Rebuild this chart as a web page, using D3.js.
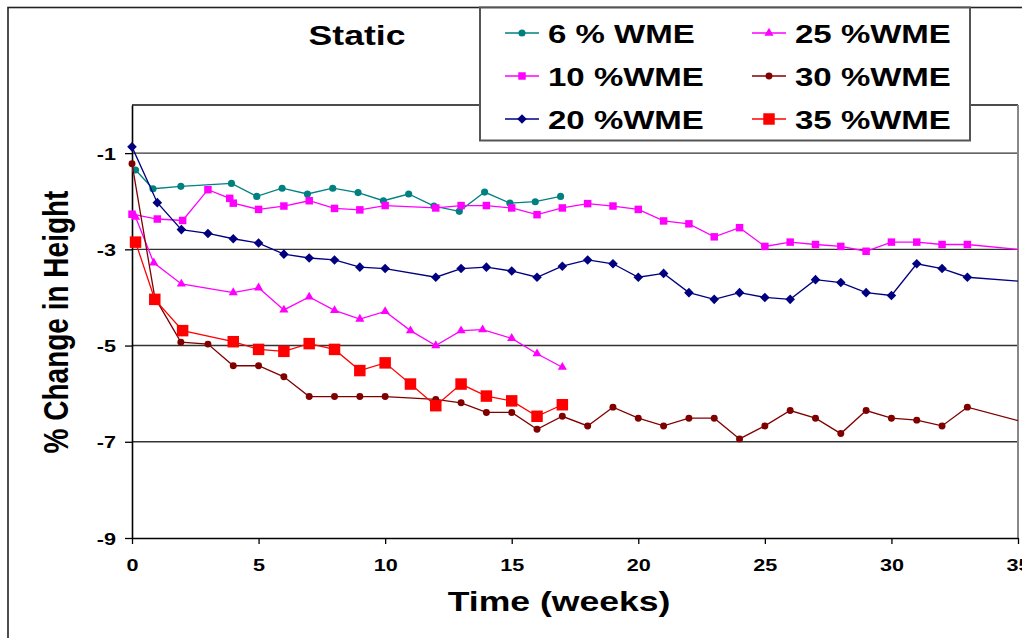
<!DOCTYPE html>
<html>
<head>
<meta charset="utf-8">
<script src="https://cdn.jsdelivr.net/npm/d3@7/dist/d3.min.js"></script>
<style>
  html, body { margin: 0; padding: 0; background: #fff; }
  svg { display: block; }
  text { font-family: "Liberation Sans", Arial, sans-serif; font-weight: bold; fill: #000; }
</style>
</head>
<body>
<svg id="chart" width="1022" height="638"></svg>
<script>
// ---- data: % change in height over time (weeks), per WME level ----
const seriesNames = ["6 % WME", "10 %WME", "20 %WME", "25 %WME", "30 %WME", "35 %WME"];

const wme6Weeks  = [0.14, 0.83, 1.93, 3.93, 4.93, 5.93, 6.93, 7.93, 8.93, 9.93, 10.93, 11.93, 12.93, 13.93, 14.93, 15.93, 16.93];
const wme6Values = [-1.35, -1.74, -1.69, -1.63, -1.90, -1.73, -1.85, -1.73, -1.82, -1.99, -1.85, -2.10, -2.21, -1.81, -2.04, -2.01, -1.90];

const wme10Weeks  = [0, 1, 2, 3, 3.86, 4, 5, 6, 7, 8, 9, 10, 12, 13, 14, 15, 16, 17, 18, 19, 20, 21, 22, 23, 24, 25, 26, 27, 28, 29, 30, 31, 32, 33, 36];
const wme10Values = [-2.27, -2.37, -2.40, -1.76, -1.94, -2.04, -2.17, -2.10, -1.99, -2.15, -2.18, -2.09, -2.14, -2.09, -2.09, -2.14, -2.28, -2.14, -2.05, -2.10, -2.17, -2.41, -2.47, -2.74, -2.55, -2.94, -2.85, -2.90, -2.94, -3.04, -2.85, -2.85, -2.90, -2.90, -3.05];

const wme20Weeks  = [0, 1, 1.95, 3, 4, 5, 6, 7, 8, 9, 10, 12, 13, 14, 15, 16, 17, 18, 19, 20, 21, 22, 23, 24, 25, 26, 27, 28, 29, 30, 31, 32, 33, 36];
const wme20Values = [-0.87, -2.03, -2.59, -2.67, -2.78, -2.87, -3.10, -3.18, -3.22, -3.37, -3.40, -3.58, -3.40, -3.37, -3.45, -3.58, -3.35, -3.22, -3.30, -3.58, -3.50, -3.90, -4.04, -3.90, -4.00, -4.04, -3.63, -3.69, -3.90, -3.96, -3.30, -3.40, -3.58, -3.70];

const wme25Weeks  = [0.14, 0.86, 1.95, 4, 5, 6, 7, 8, 9, 10, 11, 12, 13, 13.85, 15, 16, 17];
const wme25Values = [-2.33, -3.28, -3.72, -3.90, -3.80, -4.26, -3.99, -4.27, -4.45, -4.29, -4.69, -5.00, -4.69, -4.67, -4.85, -5.17, -5.45];

const wme30Weeks  = [0, 0.9, 1.93, 3, 4, 5, 6, 7, 8, 9, 10, 12, 13, 14, 15, 16, 17, 18, 19, 20, 21, 22, 23, 24, 25, 26, 27, 28, 29, 30, 31, 32, 33, 36];
const wme30Values = [-1.22, -4.00, -4.93, -4.97, -5.42, -5.42, -5.65, -6.06, -6.06, -6.06, -6.06, -6.12, -6.19, -6.39, -6.39, -6.74, -6.47, -6.67, -6.28, -6.51, -6.67, -6.51, -6.51, -6.94, -6.67, -6.35, -6.51, -6.83, -6.35, -6.51, -6.55, -6.67, -6.28, -6.70];

const wme35Weeks  = [0.14, 0.9, 2, 4, 5, 6, 7, 8, 9, 10, 11, 12, 13, 14, 15, 16, 17];
const wme35Values = [-2.85, -4.04, -4.69, -4.92, -5.08, -5.12, -4.96, -5.08, -5.52, -5.36, -5.80, -6.25, -5.80, -6.05, -6.15, -6.47, -6.23];

const xTickValues = [0, 5, 10, 15, 20, 25, 30, 35];
const yTickValues = [-1, -3, -5, -7, -9];

// ---- styling per series ----
const diamond = {
  draw(ctx, size) {
    const r = Math.sqrt(size) / 1.4;
    ctx.moveTo(0, -r); ctx.lineTo(r, 0); ctx.lineTo(0, r); ctx.lineTo(-r, 0); ctx.closePath();
  }
};
const styles = [
  { color: "#008080", symbol: d3.symbolCircle,   size: 40 },
  { color: "#FF00FF", symbol: d3.symbolSquare,   size: 56 },
  { color: "#000080", symbol: diamond,           size: 45 },
  { color: "#FF00FF", symbol: d3.symbolTriangle, size: 36 },
  { color: "#800000", symbol: d3.symbolCircle,   size: 38 },
  { color: "#FF0000", symbol: d3.symbolSquare,   size: 132 }
];

const weeksList  = [wme6Weeks, wme10Weeks, wme20Weeks, wme25Weeks, wme30Weeks, wme35Weeks];
const valuesList = [wme6Values, wme10Values, wme20Values, wme25Values, wme30Values, wme35Values];
const series = seriesNames.map((name, i) => ({
  name,
  ...styles[i],
  points: weeksList[i].map((w, j) => ({ week: w, value: valuesList[i][j] }))
}));

// ---- layout ----
const SX = 1.27;               // horizontal stretch of the lettering
const plot = { left: 132, right: 1018, top: 105, bottom: 538 };

const svg = d3.select("#chart");
svg.append("rect").attr("width", 1022).attr("height", 638).attr("fill", "#fff");

// outer chart frame
svg.append("rect")
  .attr("x", 8).attr("y", 7.5).attr("width", 1100).attr("height", 700)
  .attr("fill", "none").attr("stroke", "#222").attr("stroke-width", 1.6);

const x = d3.scaleLinear().domain([0, 35]).range([plot.left, plot.right]);
const y = d3.scaleLinear().domain([-9, 0]).range([plot.bottom, plot.top]);

// gridlines
svg.append("g").selectAll("line")
  .data(yTickValues.filter(v => v !== -9))
  .join("line")
  .attr("x1", plot.left).attr("x2", plot.right)
  .attr("y1", d => y(d)).attr("y2", d => y(d))
  .attr("stroke", "#333").attr("stroke-width", 1.4);

// plot frame: top and right edges
svg.append("line")
  .attr("x1", plot.left).attr("x2", plot.right)
  .attr("y1", plot.top).attr("y2", plot.top)
  .attr("stroke", "#111").attr("stroke-width", 1.4);
svg.append("line")
  .attr("x1", plot.right).attr("x2", plot.right)
  .attr("y1", plot.top).attr("y2", plot.bottom)
  .attr("stroke", "#888").attr("stroke-width", 2);

// axes (plain hyphen-minus in the labels)
const plainNumber = d => String(d);
const yAxis = svg.append("g")
  .attr("transform", `translate(${plot.left},0)`)
  .call(d3.axisLeft(y).tickValues(yTickValues).tickSize(7).tickSizeOuter(0).tickFormat(plainNumber));
const xAxis = svg.append("g")
  .attr("transform", `translate(0,${plot.bottom})`)
  .call(d3.axisBottom(x).tickValues(xTickValues).tickSize(6).tickSizeOuter(0).tickFormat(plainNumber));

[yAxis, xAxis].forEach(a => {
  a.select(".domain").attr("stroke", "#000").attr("stroke-width", 1.6);
  a.selectAll(".tick line").attr("stroke", "#000").attr("stroke-width", 1.3);
  a.selectAll("text").attr("font-family", null).attr("font-size", null);
});
yAxis.selectAll(".tick text")
  .style("font-size", "17px")
  .attr("x", -16 / SX).attr("dy", "0.36em")
  .attr("transform", `scale(${SX},1)`);
xAxis.selectAll(".tick text")
  .style("font-size", "17px")
  .attr("y", 33).attr("dy", 0)
  .attr("transform", `scale(${SX},1)`);

// series
svg.append("defs").append("clipPath").attr("id", "plotClip")
  .append("rect")
  .attr("x", plot.left - 8).attr("y", plot.top - 10)
  .attr("width", plot.right - plot.left + 8).attr("height", plot.bottom - plot.top + 20);

const line = d3.line().x(d => x(d.week)).y(d => y(d.value));
const layer = svg.append("g").attr("clip-path", "url(#plotClip)");
series.forEach(s => {
  const g = layer.append("g");
  g.append("path")
    .attr("d", line(s.points))
    .attr("fill", "none").attr("stroke", s.color).attr("stroke-width", 1.3);
  g.selectAll("path.mark")
    .data(s.points)
    .join("path")
    .attr("class", "mark")
    .attr("transform", d => `translate(${x(d.week)},${y(d.value)})`)
    .attr("d", d3.symbol().type(s.symbol).size(s.size))
    .attr("fill", s.color);
});

// title
svg.append("text")
  .attr("transform", `translate(357,45) scale(${SX},1)`)
  .attr("text-anchor", "middle").style("font-size", "28px")
  .text("Static");

// axis titles
svg.append("text")
  .attr("transform", `translate(559,611) scale(${SX},1)`)
  .attr("text-anchor", "middle").style("font-size", "28px")
  .text("Time (weeks)");
svg.append("text")
  .attr("transform", `translate(68,322) rotate(-90) scale(1,${SX})`)
  .attr("text-anchor", "middle").style("font-size", "28px")
  .text("% Change in Height");

// legend
const legend = svg.append("g");
legend.append("rect")
  .attr("x", 480).attr("y", 7.5).attr("width", 490).attr("height", 133)
  .attr("fill", "#fff").attr("stroke", "#555").attr("stroke-width", 2);
const legendCols = [505, 752];
const legendRows = [33, 76, 119];
series.forEach((s, i) => {
  const cx = legendCols[Math.floor(i / 3)];
  const cy = legendRows[i % 3];
  const item = legend.append("g").attr("transform", `translate(${cx},${cy})`);
  item.append("line").attr("x1", 0).attr("x2", 34).attr("y1", 0).attr("y2", 0)
    .attr("stroke", s.color).attr("stroke-width", 1.3);
  item.append("path")
    .attr("transform", "translate(17,0)")
    .attr("d", d3.symbol().type(s.symbol).size(s.size))
    .attr("fill", s.color);
  item.append("text")
    .attr("transform", `translate(43,9.5) scale(${SX},1)`)
    .style("font-size", "26px")
    .text(s.name);
});
</script>
</body>
</html>
